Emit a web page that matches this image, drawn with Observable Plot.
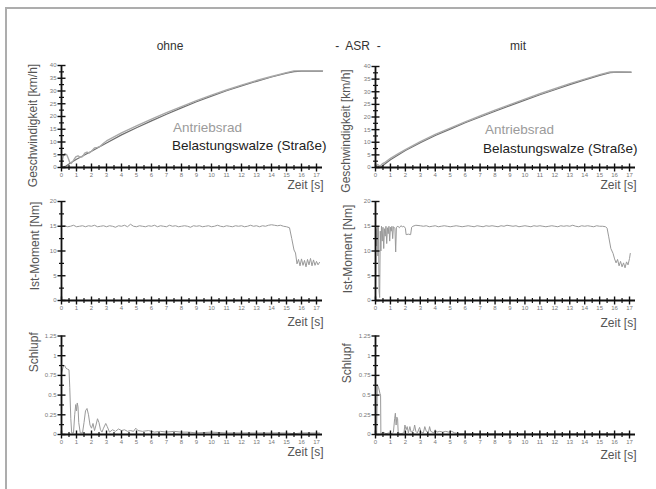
<!DOCTYPE html>
<html>
<head>
<meta charset="utf-8">
<script src="https://cdn.jsdelivr.net/npm/d3@7"></script>
<script src="https://cdn.jsdelivr.net/npm/@observablehq/plot@0.6"></script>
<style>
  html, body { margin: 0; padding: 0; background: #fff; }
  #page { position: relative; width: 656px; height: 489px; overflow: hidden; font-family: "Liberation Sans", Arial, sans-serif; }
  .frame { position: absolute; left: 5px; top: 7px; right: -10px; bottom: -10px; border-left: 2px solid #adadad; border-top: 2px solid #adadad; }
  .title { position: absolute; width: 120px; text-align: center; font-size: 12px; line-height: 12px; color: #333; }
  .legend { position: absolute; font-size: 13.5px; line-height: 14px; white-space: nowrap; }
  .panel { position: absolute; }
</style>
</head>
<body>
<div id="page">
  <div class="frame"></div>
</div>
<script>
// ---------------- data ----------------
const titles = ["ohne", "-\u00a0 ASR \u00a0-", "mit"];
const legendLabels = ["Antriebsrad", "Belastungswalze (Straße)"];
const yLabels = ["Geschwindigkeit [km/h]", "Ist-Moment [Nm]", "Schlupf"];
const xLabel = "Zeit [s]";

const xTicks = [0,1,2,3,4,5,6,7,8,9,10,11,12,13,14,15,16,17];
const xMinor = [0.5,1.5,2.5,3.5,4.5,5.5,6.5,7.5,8.5,9.5,10.5,11.5,12.5,13.5,14.5,15.5,16.5];
const speedTicks = [0,5,10,15,20,25,30,35,40];
const speedMinor = [2.5,7.5,12.5,17.5,22.5,27.5,32.5,37.5];
const momentTicks = [0,5,10,15,20];
const momentMinor = [2.5,7.5,12.5,17.5];
const slipTicks = [0,0.25,0.5,0.75,1,1.25];
const slipMinor = [0.125,0.375,0.625,0.875,1.125];

// Geschwindigkeit ohne ASR  [t, km/h]
const speedOhneRad = [[0,0],[0.05,2.5],[0.12,4.6],[0.22,5.4],[0.35,5.0],[0.45,3.6],[0.55,2.0],[0.65,1.6],[0.8,2.8],[0.95,4.2],[1.1,4.6],[1.25,4.0],[1.4,4.3],[1.55,5.6],[1.7,6.0],[1.85,5.7],[2.0,6.4],[2.2,7.7],[2.4,7.9],[2.6,8.4],[2.8,9.5],[3,10.4],[4,13.6],[5,16.3],[6,19.0],[7,21.5],[8,23.9],[9,26.2],[10,28.4],[11,30.4],[12,32.3],[13,34.1],[14,35.7],[15,37.2],[15.5,37.9],[16,37.9],[17.4,37.9]];
const speedOhneWalze = [[0,0],[0.3,0.6],[0.6,1.8],[1,3.2],[2,6.4],[3,9.6],[4,12.8],[5,15.6],[6,18.3],[7,20.9],[8,23.4],[9,25.8],[10,28.0],[11,30.1],[12,32.0],[13,33.8],[14,35.5],[15,37.0],[15.5,37.6],[16,37.8],[17.4,37.8]];
// Geschwindigkeit mit ASR
const speedMitRad = [[0,0.3],[0.15,1.2],[0.3,0.5],[0.45,1.4],[0.6,1.9],[1,3.6],[1.5,5.4],[2,7.1],[3,10.2],[4,13.1],[5,15.6],[6,18.1],[7,20.4],[8,22.7],[9,24.9],[10,27.1],[11,29.2],[12,31.2],[13,33.2],[14,35.0],[15,36.8],[15.7,37.8],[16.2,37.9],[17.1,37.8]];
const speedMitWalze = [[0,0],[0.2,0.4],[0.4,0.3],[0.6,1.3],[1,3.1],[2,6.7],[3,9.8],[4,12.7],[5,15.2],[6,17.7],[7,20.0],[8,22.3],[9,24.5],[10,26.7],[11,28.8],[12,30.8],[13,32.8],[14,34.7],[15,36.5],[15.7,37.6],[16.2,37.8],[17.1,37.7]];

// Ist-Moment ohne ASR [t, Nm]
const momentOhne = [[0,15.0],[0.2,15.1],[0.4,14.9],[0.6,15.0],[0.8,15.2],[1.0,14.9],[1.2,15.0],[1.4,15.1],[1.6,14.9],[1.8,15.1],[2.0,15.0],[2.2,15.2],[2.4,14.9],[2.6,15.0],[2.8,15.1],[3.0,14.9],[3.2,15.1],[3.4,15.0],[3.6,14.8],[3.8,15.1],[4.0,15.0],[4.2,15.2],[4.4,14.9],[4.6,15.4],[4.8,15.0],[5.0,14.9],[5.2,15.1],[5.4,15.0],[5.6,14.9],[5.8,15.1],[6.0,15.0],[6.2,15.2],[6.4,14.9],[6.6,15.1],[6.8,15.0],[7.0,14.9],[7.2,15.2],[7.4,15.0],[7.6,15.1],[7.8,14.9],[8.0,15.0],[8.2,15.1],[8.4,15.0],[8.6,14.8],[8.8,15.1],[9.0,15.0],[9.2,15.1],[9.4,14.9],[9.6,15.0],[9.8,15.1],[10.0,14.9],[10.2,15.0],[10.4,15.2],[10.6,15.0],[10.8,14.9],[11.0,15.1],[11.2,15.0],[11.4,14.9],[11.6,15.1],[11.8,15.0],[12.0,15.1],[12.2,14.9],[12.4,15.0],[12.6,15.2],[12.8,15.0],[13.0,15.1],[13.2,14.9],[13.4,15.1],[13.6,15.0],[13.8,15.2],[14.0,15.3],[14.2,15.2],[14.4,15.1],[14.6,15.2],[14.8,15.0],[15.0,14.9],[15.2,14.7],[15.35,12.5],[15.5,10.2],[15.6,9.6],[15.7,7.4],[15.8,8.3],[15.9,7.0],[16.0,8.4],[16.1,7.1],[16.2,8.1],[16.3,6.8],[16.4,8.3],[16.5,7.2],[16.6,8.5],[16.7,7.0],[16.8,8.2],[16.9,7.1],[17.0,7.9],[17.1,7.2],[17.2,7.7]];
// Ist-Moment mit ASR
const momentMit = [[0,0.5],[0.03,14.5],[0.08,11],[0.12,15],[0.16,9],[0.2,14.8],[0.24,2],[0.28,0.6],[0.32,14],[0.36,10],[0.4,15],[0.45,12],[0.5,14.8],[0.55,10.5],[0.6,14.5],[0.65,13],[0.7,15],[0.75,11.5],[0.8,14.7],[0.85,13.5],[0.9,15],[0.95,12],[1.0,14.8],[1.05,14],[1.1,15],[1.15,12.5],[1.2,14.9],[1.3,14.6],[1.35,9.8],[1.4,14.8],[1.5,15],[1.6,14.7],[1.7,15.1],[1.8,14.9],[1.9,15],[2.0,14.6],[2.05,13.3],[2.2,13.4],[2.35,13.3],[2.42,14.8],[2.5,15],[2.7,15.2],[3.0,15.1],[3.2,15.0],[3.4,15.1],[3.6,14.9],[3.8,15.0],[4.0,15.1],[4.2,14.9],[4.4,15.0],[4.6,15.1],[4.8,15.0],[5.0,14.9],[5.2,15.0],[5.4,15.1],[5.6,15.0],[5.8,14.9],[6.0,15.0],[6.2,15.1],[6.4,15.0],[6.6,14.9],[6.8,15.1],[7.0,15.0],[7.2,14.9],[7.4,15.1],[7.6,15.0],[7.8,15.1],[8.0,15.0],[8.2,14.9],[8.4,15.1],[8.6,15.0],[8.8,15.2],[9.0,15.1],[9.2,15.0],[9.4,15.1],[9.6,14.9],[9.8,15.0],[10.0,15.1],[10.2,15.0],[10.4,14.9],[10.6,15.1],[10.8,15.0],[11.0,15.1],[11.2,15.0],[11.4,14.9],[11.6,15.0],[11.8,15.1],[12.0,15.0],[12.2,14.9],[12.4,15.1],[12.6,15.0],[12.8,15.1],[13.0,15.0],[13.2,15.2],[13.4,15.0],[13.6,14.9],[13.8,15.1],[14.0,15.0],[14.2,15.1],[14.4,15.0],[14.6,14.9],[14.8,15.1],[15.0,15.0],[15.2,15.0],[15.4,14.9],[15.5,14.6],[15.6,13.0],[15.75,10.5],[15.9,9.5],[16.0,8.4],[16.1,7.6],[16.2,8.3],[16.3,7.0],[16.4,7.9],[16.5,6.8],[16.6,7.6],[16.7,6.6],[16.8,7.8],[16.9,7.2],[17.0,8.5],[17.05,9.5]];

// Schlupf ohne ASR [t, -]
const slipOhne = [[0,0.78],[0.1,0.85],[0.2,0.88],[0.3,0.84],[0.4,0.83],[0.5,0.82],[0.55,0.6],[0.62,0.2],[0.68,0.02],[0.8,0.02],[0.88,0.25],[0.95,0.38],[1.0,0.3],[1.05,0.4],[1.1,0.35],[1.15,0.15],[1.25,0.02],[1.4,0.02],[1.5,0.15],[1.6,0.3],[1.7,0.33],[1.8,0.25],[1.9,0.12],[2.0,0.08],[2.1,0.14],[2.2,0.05],[2.3,0.12],[2.4,0.2],[2.5,0.15],[2.6,0.06],[2.7,0.03],[2.8,0.08],[2.95,0.14],[3.05,0.1],[3.2,0.03],[3.4,0.06],[3.6,0.04],[3.8,0.07],[4.0,0.05],[4.2,0.06],[4.4,0.04],[4.6,0.05],[4.8,0.04],[4.95,0.08],[5.1,0.05],[5.4,0.04],[5.8,0.05],[6.2,0.03],[6.6,0.04],[7.0,0.03],[7.5,0.04],[8.0,0.03],[8.5,0.03],[9,0.02],[10,0.03],[11,0.02],[12,0.02],[13,0.02],[14,0.02],[15,0.02],[15.5,0.01],[16,0.02],[17.2,0.02]];
// Schlupf mit ASR
const slipMit = [[0,0.0],[0.08,0.02],[0.12,0.63],[0.2,0.6],[0.3,0.52],[0.34,0.5],[0.36,0.01],[0.5,0.03],[0.7,0.01],[0.9,0.02],[1.1,0.01],[1.2,0.03],[1.28,0.2],[1.33,0.27],[1.38,0.12],[1.43,0.22],[1.48,0.2],[1.52,0.02],[1.7,0.01],[1.9,0.02],[1.97,0.12],[2.05,0.06],[2.12,0.1],[2.2,0.02],[2.3,0.1],[2.38,0.03],[2.55,0.05],[2.62,0.12],[2.7,0.04],[2.8,0.02],[2.95,0.09],[3.05,0.03],[3.2,0.02],[3.3,0.1],[3.4,0.04],[3.55,0.03],[3.62,0.1],[3.7,0.04],[3.9,0.02],[4.0,0.06],[4.1,0.03],[4.3,0.04],[4.5,0.03],[4.7,0.04],[4.9,0.03],[5.1,0.04],[5.3,0.02],[5.6,0.01],[6,0.01],[8,0.01],[10,0.01],[12,0.01],[14,0.01],[16,0.01],[17,0.01]];

// ---------------- drawing ----------------
const page = document.getElementById("page");
const vTick = {draw(ctx, size) { const r = Math.sqrt(size / Math.PI); ctx.moveTo(0, -r); ctx.lineTo(0, r); }};
const hTick = {draw(ctx, size) { const r = Math.sqrt(size / Math.PI); ctx.moveTo(-r, 0); ctx.lineTo(r, 0); }};

function panel(cfg) {
  const marks = [
    Plot.axisX({ticks: xTicks, tickSize: 0, tickPadding: 5, fontSize: 6, label: null, tickFormat: d => String(d)}),
    Plot.axisY({ticks: cfg.yTicks, tickSize: 0, tickPadding: 5, fontSize: 6, label: null, tickFormat: d => String(d)}),
    ...cfg.series.map(s => Plot.line(s.data, {x: d => d[0], y: d => d[1], stroke: s.color, strokeWidth: s.width})),
    Plot.ruleY([0], {stroke: "#111", strokeWidth: 1.8}),
    Plot.ruleX([0], {stroke: "#111", strokeWidth: 1.8}),
    Plot.dot(xTicks, {x: d => d, y: () => 0, symbol: vTick, r: 4, stroke: "#111", strokeWidth: 1.4, fill: "none"}),
    Plot.dot(xMinor, {x: d => d, y: () => 0, symbol: vTick, r: 2.5, stroke: "#111", strokeWidth: 1.2, fill: "none"}),
    Plot.dot(cfg.yTicks, {x: () => 0, y: d => d, symbol: hTick, r: 4, stroke: "#111", strokeWidth: 1.4, fill: "none"}),
    Plot.dot(cfg.yMinor, {x: () => 0, y: d => d, symbol: hTick, r: 2.5, stroke: "#111", strokeWidth: 1.2, fill: "none"}),
    Plot.text([cfg.yLabel], {frameAnchor: "left", textAnchor: "middle", lineAnchor: "middle", rotate: -90, dx: cfg.labelDx, dy: cfg.labelDy, text: d => d, fontSize: 12, fill: "#555"}),
    Plot.text([xLabel], {frameAnchor: "bottom-right", textAnchor: "end", lineAnchor: "middle", dy: cfg.zeitDy, dx: 1, text: d => d, fontSize: 12, fill: "#555"})
  ];
  const chart = Plot.plot({
    width: cfg.w, height: cfg.h,
    marginLeft: cfg.ml, marginRight: cfg.mr, marginTop: cfg.mt, marginBottom: cfg.mb,
    x: {domain: [0, 17.4]},
    y: {domain: cfg.yDomain},
    style: {background: "transparent", overflow: "visible", color: "#777", fontFamily: "Liberation Sans, Arial, sans-serif"},
    marks
  });
  chart.classList.add("panel");
  chart.style.left = cfg.left + "px";
  chart.style.top = cfg.top + "px";
  page.appendChild(chart);
}

const L = {left: 0, w: 330, ml: 61, mr: 8};
const R = {left: 328, w: 328, ml: 47, mr: 21};
const RAD = "#a8a8a8", WALZE = "#6e6e6e", SIG = "#9a9a9a";

panel({...L, top: 55, h: 145, mt: 10, mb: 33, yDomain: [0, 40], yTicks: speedTicks, yMinor: speedMinor, yLabel: yLabels[0], labelDx: -28, labelDy: 9, zeitDy: 18,
  series: [{data: speedOhneWalze, color: WALZE, width: 1.2}, {data: speedOhneRad, color: RAD, width: 1.4}]});
panel({...R, top: 55, h: 145, mt: 11, mb: 33, yDomain: [0, 40], yTicks: speedTicks, yMinor: speedMinor, yLabel: yLabels[0], labelDx: -29, labelDy: 14, zeitDy: 18,
  series: [{data: speedMitWalze, color: WALZE, width: 1.2}, {data: speedMitRad, color: RAD, width: 1.4}]});
panel({...L, top: 190, h: 140, mt: 11, mb: 30, yDomain: [0, 20], yTicks: momentTicks, yMinor: momentMinor, yLabel: yLabels[1], labelDx: -26, labelDy: -5, zeitDy: 22,
  series: [{data: momentOhne, color: SIG, width: 1}]});
panel({...R, top: 190, h: 140, mt: 11, mb: 30, yDomain: [0, 20], yTicks: momentTicks, yMinor: momentMinor, yLabel: yLabels[1], labelDx: -27, labelDy: -2, zeitDy: 23,
  series: [{data: momentMit, color: SIG, width: 1}]});
panel({...L, top: 325, h: 145, mt: 10.5, mb: 36, yDomain: [0, 1.25], yTicks: slipTicks, yMinor: slipMinor, yLabel: yLabels[2], labelDx: -27, labelDy: -33, zeitDy: 18,
  series: [{data: slipOhne, color: SIG, width: 1}]});
panel({...R, top: 325, h: 145, mt: 10.5, mb: 36, yDomain: [0, 1.25], yTicks: slipTicks, yMinor: slipMinor, yLabel: yLabels[2], labelDx: -28, labelDy: -22, zeitDy: 21,
  series: [{data: slipMit, color: SIG, width: 1}]});

// titles and legends (HTML text)
function label(cls, x, y, text, color) {
  const d = document.createElement("div");
  d.className = cls;
  d.style.left = x + "px"; d.style.top = y + "px";
  if (color) d.style.color = color;
  d.textContent = text;
  page.appendChild(d);
}
label("title", 110, 40, titles[0]);
label("title", 298, 40, titles[1]);
label("title", 458, 40, titles[2]);
label("legend", 173, 121, legendLabels[0], "#9b9b9b");
label("legend", 172, 139, legendLabels[1], "#222");
label("legend", 485, 123, legendLabels[0], "#9b9b9b");
label("legend", 483, 142, legendLabels[1], "#222");
</script>
</body>
</html>
